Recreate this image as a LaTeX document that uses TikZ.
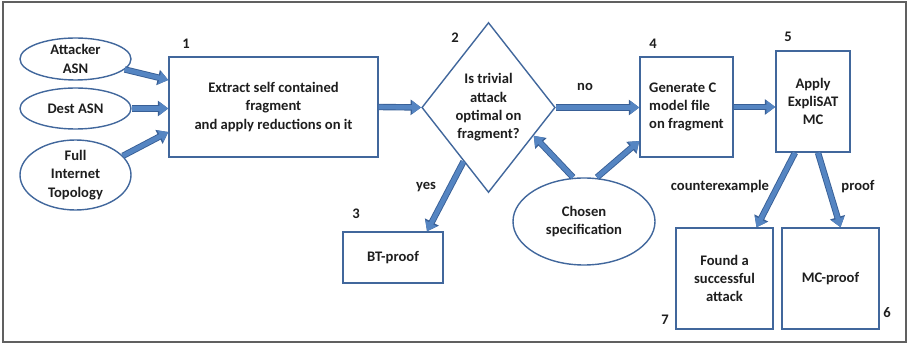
\documentclass[tikz,border=0pt]{standalone}
\usepackage{fontspec}
\setmainfont{Carlito}
\usetikzlibrary{shapes.geometric,arrows.meta,calc}
\definecolor{shapeblue}{HTML}{41679C}
\definecolor{arrowfill}{HTML}{5585C2}
\definecolor{arrowdark}{HTML}{385F96}
\definecolor{txt}{HTML}{1E1E1E}
\definecolor{frame}{HTML}{606060}
\tikzset{
  base/.style={draw=shapeblue, line width=1.4pt, align=center, inner sep=0pt,
    font=\fontsize{14.6}{18.3}\selectfont\bfseries, text=txt},
  box/.style={base, rectangle},
  oval/.style={base, ellipse},
  decide/.style={base, diamond},
  num/.style={font=\fontsize{14.6}{16}\selectfont\bfseries, text=txt, inner sep=0pt},
  lbl/.style={font=\fontsize{14.6}{16}\selectfont\bfseries, text=txt, inner sep=0pt},
  blk/.style={arrowfill, line width=4.6pt, -{Triangle[length=9pt,width=12.5pt]},
    preaction={draw=arrowdark, line width=6.4pt, -{Triangle[length=10.5pt,width=15pt]}}}
}
\begin{document}
\begin{tikzpicture}[x=1pt,y=-1pt]
\useasboundingbox (0,0) rectangle (909,344);
\draw[frame, line width=1.3pt] (3,2) rectangle (906,342);

\node[oval, minimum width=111pt, minimum height=42pt] (att) at (75.5,59) {Attacker\\ASN};
\node[oval, minimum width=111pt, minimum height=41pt] (dest) at (75.5,108.5) {Dest ASN};
\node[oval, minimum width=111pt, minimum height=70pt] (full) at (75.5,175) {Full\\Internet\\Topology};

\node[box, minimum width=209pt, minimum height=100pt] (b1) at (273.5,107) {Extract self contained\\fragment\\and apply reductions on it};
\node[decide, minimum width=133pt, minimum height=170pt] (dia) at (488.5,107.5) {Is trivial\\attack\\optimal on\\fragment?};
\node[box, minimum width=93pt, minimum height=100pt, align=left] (b4) at (686.5,107) {Generate C\\model file\\on fragment};
\node[box, minimum width=74pt, minimum height=101pt] (b5) at (813,101.5) {Apply\\ExpliSAT\\MC};
\node[oval, minimum width=142pt, minimum height=87pt] (spec) at (584,221.5) {Chosen\\specification};
\node[box, minimum width=100pt, minimum height=51pt] (bt) at (393,257.5) {BT-proof};
\node[box, minimum width=97pt, minimum height=101pt] (b7) at (724.5,278.5) {Found a\\successful\\attack};
\node[box, minimum width=97pt, minimum height=101pt] (b6) at (830.5,278.5) {MC-proof};

\node[num] (n1) at (186,44) {1};
\node[num] (n2) at (455,38) {2};
\node[num] (n3) at (356,214) {3};
\node[num] (n4) at (653,44) {4};
\node[num] (n5) at (788,37) {5};
\node[num] (n6) at (887,313) {6};
\node[num] (n7) at (665,320) {7};

\node[lbl] (lno) at (585,87) {no};
\node[lbl] (lyes) at (426,187) {yes};
\node[lbl] (lce) at (720,187) {counterexample};
\node[lbl] (lpr) at (858,187) {proof};

\draw[blk] (att.-12) -- ([yshift=27pt]b1.west);
\draw[blk] (dest.east) -- (dest.east -| b1.west);
\draw[blk] (full.22) -- ([yshift=-25pt]b1.west);
\draw[blk] (b1.east) -- (dia.west);
\draw[blk] (dia.east) -- (dia.east -| b4.west);
\draw[blk] (b4.east) -- (b4.east -| b5.west);
\draw[blk] ($(dia.west)!0.63!(dia.south)$) -- ([xshift=34pt]bt.north);
\draw[blk] ([xshift=-11pt]spec.north) -- ($(dia.east)!0.33!(dia.south)$);
\draw[blk] ([xshift=13pt]spec.north) -- ([yshift=-34pt]b4.west);
\draw[blk] ([xshift=-18pt]b5.south) -- ([xshift=32pt]b7.north);
\draw[blk] ([xshift=5pt]b5.south) -- ([xshift=10pt]b6.north);
\end{tikzpicture}
\end{document}
